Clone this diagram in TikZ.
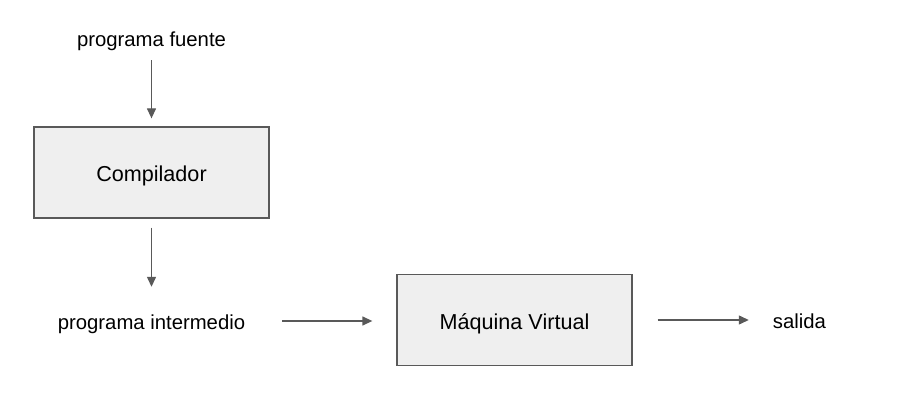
\documentclass[tikz,border=0pt]{standalone}
\usepackage{fontspec}
\setmainfont{Liberation Sans}
\usetikzlibrary{arrows.meta}
\definecolor{boxfill}{HTML}{EFEFEF}
\definecolor{edge}{HTML}{595959}
\begin{document}
\begin{tikzpicture}[x=1pt,y=-1pt,
  procbox/.style={draw=edge, fill=boxfill, line width=1.3pt, minimum width=235pt, minimum height=91pt, inner sep=0pt, text height=20pt, text depth=2pt, font=\fontsize{21.6}{26}\selectfont},
  lbl/.style={inner sep=0pt, text height=15pt, text depth=4pt, font=\fontsize{20.3}{24}\selectfont},
  lowlbl/.style={lbl, text height=19pt, text depth=3pt},
  arr/.style={draw=edge, line width=1.3pt, -{Triangle[length=10pt,width=9pt]}}]
\useasboundingbox (0,0) rectangle (920,409);
\node[lbl] (pf) at (151.5,41) {programa fuente};
\node[procbox] (comp) at (151.5,172.5) {Compilador};
\node[lowlbl] (pi) at (151.5,321) {programa intermedio};
\node[procbox] (mv) at (514.5,320) {Máquina Virtual};
\node[lowlbl] (out) at (799.5,320.5) {salida};
\draw[arr, shorten <=9.5pt, shorten >=8pt] (pf.south) -- (comp.north);
\draw[arr, shorten <=9pt, shorten >=23pt] (comp.south) -- (pi.north);
\draw[arr, shorten <=37pt, shorten >=24pt] (pi.east) -- (pi.east -| mv.west);
\draw[arr, shorten <=25pt, shorten >=24pt] (mv.east) -- (mv.east -| out.west);
\end{tikzpicture}
\end{document}
